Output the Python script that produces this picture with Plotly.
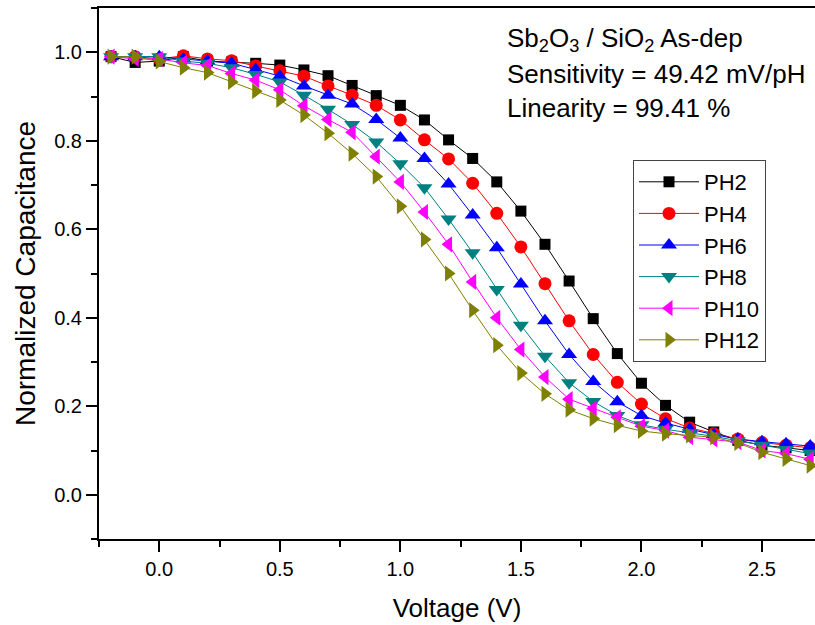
import plotly.graph_objects as go

voltage = [-0.2, -0.1, 0.0, 0.1, 0.2, 0.3, 0.4, 0.5, 0.6, 0.7, 0.8, 0.9, 1.0, 1.1, 1.2,
           1.3, 1.4, 1.5, 1.6, 1.7, 1.8, 1.9, 2.0, 2.1, 2.2, 2.3, 2.4, 2.5, 2.6, 2.7]

ph2 = [0.990, 0.977, 0.980, 0.990, 0.980, 0.978, 0.975, 0.971, 0.960, 0.947, 0.925, 0.902, 0.880, 0.847, 0.802,
       0.760, 0.707, 0.641, 0.566, 0.483, 0.398, 0.319, 0.252, 0.202, 0.164, 0.142, 0.123, 0.112, 0.106, 0.100]
ph4 = [0.990, 0.990, 0.985, 0.992, 0.985, 0.981, 0.969, 0.958, 0.946, 0.924, 0.903, 0.880, 0.847, 0.802, 0.759,
       0.704, 0.636, 0.560, 0.477, 0.393, 0.317, 0.254, 0.205, 0.172, 0.151, 0.138, 0.126, 0.118, 0.112, 0.106]
ph6 = [0.990, 0.990, 0.990, 0.985, 0.980, 0.975, 0.961, 0.946, 0.924, 0.903, 0.883, 0.848, 0.806, 0.760, 0.702,
       0.632, 0.558, 0.476, 0.393, 0.317, 0.256, 0.210, 0.179, 0.162, 0.148, 0.136, 0.126, 0.120, 0.115, 0.110]
ph8 = [0.990, 0.990, 0.990, 0.980, 0.975, 0.965, 0.950, 0.933, 0.903, 0.871, 0.837, 0.797, 0.748, 0.694, 0.623,
       0.547, 0.464, 0.383, 0.313, 0.253, 0.211, 0.179, 0.158, 0.148, 0.140, 0.132, 0.122, 0.112, 0.102, 0.093]
ph10 = [0.990, 0.985, 0.985, 0.976, 0.970, 0.952, 0.937, 0.915, 0.879, 0.848, 0.819, 0.764, 0.707, 0.639, 0.566,
        0.481, 0.400, 0.328, 0.266, 0.216, 0.195, 0.175, 0.155, 0.145, 0.130, 0.125, 0.119, 0.100, 0.093, 0.080]
ph12 = [0.990, 0.990, 0.979, 0.965, 0.954, 0.933, 0.912, 0.892, 0.858, 0.817, 0.771, 0.719, 0.652, 0.577, 0.500,
        0.417, 0.338, 0.275, 0.228, 0.192, 0.172, 0.157, 0.144, 0.138, 0.134, 0.130, 0.117, 0.096, 0.081, 0.066]

names = ["PH2", "PH4", "PH6", "PH8", "PH10", "PH12"]
series = [ph2, ph4, ph6, ph8, ph10, ph12]
colors = ["#000000", "#FF0000", "#0000FF", "#008080", "#FF00FF", "#808000"]
symbols = ["square", "circle", "triangle-up", "triangle-down", "triangle-left", "triangle-right"]
sizes = [11, 13, 14, 14, 14, 14]

FONT = "Liberation Sans, Arial, sans-serif"
W, H = 815, 625
L, R, T, B = 99, 0, 8, 86
pw, ph_ = W - L - R, H - T - B

def px_x(p):
    return (p - L) / pw

def px_y(p):
    return (H - B - p) / ph_

fig = go.Figure()
for i, (n, s, c, sym, sz) in enumerate(zip(names, series, colors, symbols, sizes)):
    fig.add_trace(go.Scatter(
        x=voltage, y=s, name=n, mode="lines+markers",
        line=dict(color=c, width=1),
        marker=dict(color=c, symbol=sym, size=sz, line=dict(width=0)),
        legendgroup=n,
    ))

axis_common = dict(
    showgrid=False, zeroline=False, showline=True, linecolor="black", linewidth=2,
    ticks="outside", ticklen=11, tickwidth=2, tickcolor="black",
    tickfont=dict(family=FONT, size=20, color="black"),
)

fig.update_layout(
    width=W, height=H,
    margin=dict(l=L, r=R, t=T, b=B),
    paper_bgcolor="white", plot_bgcolor="white",
    font=dict(family=FONT, color="black"),
    xaxis=dict(
        range=[-0.25, 2.72], dtick=0.5, tick0=0, tickformat=".1f", mirror=True,
        minor=dict(dtick=0.25, tick0=0, ticks="outside", ticklen=6, tickwidth=2, tickcolor="black"),
        title=dict(text="Voltage (V)", font=dict(family=FONT, size=26, color="black"), standoff=20),
        **axis_common,
    ),
    yaxis=dict(
        range=[-0.1, 1.1], dtick=0.2, tick0=0, tickformat=".1f",
        minor=dict(dtick=0.1, tick0=0, ticks="outside", ticklen=6, tickwidth=2, tickcolor="black"),
        title=dict(text="Normalized Capacitance", font=dict(family=FONT, size=28, color="black"), standoff=10),
        **axis_common,
    ),
    legend=dict(
        x=px_x(633), y=px_y(160), xanchor="left", yanchor="top",
        bgcolor="white", bordercolor="#444444", borderwidth=1,
        font=dict(family=FONT, size=22, color="black"),
        itemwidth=60, tracegroupgap=0, traceorder="normal",
    ),
    showlegend=True,
)

ann_font = dict(family=FONT, size=26, color="black")
fig.add_annotation(x=px_x(505), y=px_y(39), xref="paper", yref="paper", xanchor="left", yanchor="middle",
                   text="Sb<sub>2</sub>O<sub>3</sub> / SiO<sub>2</sub> As-dep", showarrow=False, font=ann_font)
fig.add_annotation(x=px_x(505), y=px_y(74), xref="paper", yref="paper", xanchor="left", yanchor="middle",
                   text="Sensitivity = 49.42 mV/pH", showarrow=False, font=ann_font)
fig.add_annotation(x=px_x(505), y=px_y(108), xref="paper", yref="paper", xanchor="left", yanchor="middle",
                   text="Linearity = 99.41 %", showarrow=False, font=ann_font)

fig.write_html("out.html")
